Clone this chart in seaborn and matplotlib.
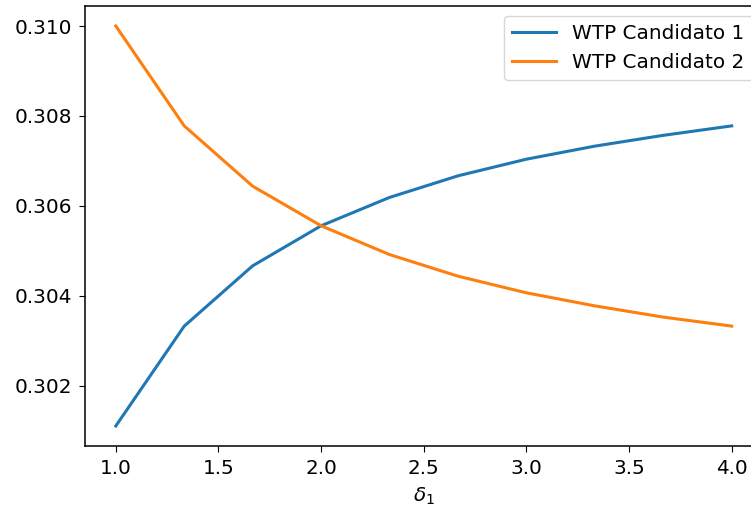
import matplotlib
matplotlib.use("Agg")
import matplotlib.pyplot as plt
import seaborn as sns
import pandas as pd

delta1 = [1.0, 4/3, 5/3, 2.0, 7/3, 8/3, 3.0, 10/3, 11/3, 4.0]
wtp_c1 = [0.30111, 0.30333, 0.30467, 0.30556, 0.30619, 0.30667, 0.30704, 0.30733, 0.30757, 0.30778]
wtp_c2 = [0.31000, 0.30778, 0.30644, 0.30556, 0.30492, 0.30444, 0.30407, 0.30378, 0.30353, 0.30333]
labels = ["WTP Candidato 1", "WTP Candidato 2"]
colors = ["#1f77b4", "#ff7f0e"]

plt.rcParams['font.family'] = ['DejaVu Sans']
plt.rcParams['font.size'] = 14.4
plt.rcParams['xtick.major.size'] = 4.1
plt.rcParams['ytick.major.size'] = 4.1
plt.rcParams['xtick.major.pad'] = 5.0
plt.rcParams['ytick.major.pad'] = 5.0
plt.rcParams['axes.linewidth'] = 1.1

fig = plt.figure(figsize=(7.51, 5.09), dpi=100)
ax = fig.add_axes([85/751, (509-446)/509, 677.5/751, 440/509])

df = pd.DataFrame({"x": delta1 * 2,
                   "y": wtp_c1 + wtp_c2,
                   "serie": [labels[0]] * len(delta1) + [labels[1]] * len(delta1)})
sns.lineplot(data=df, x="x", y="y", hue="serie", palette=colors, ax=ax, linewidth=2.2)

ax.set_xlabel(r"$\delta_1$", labelpad=6)
ax.set_ylabel("")
ax.set_yticks([0.302, 0.304, 0.306, 0.308, 0.310])
ax.set_xticks([1.0, 1.5, 2.0, 2.5, 3.0, 3.5, 4.0])
handles, labs = ax.get_legend_handles_labels()
ax.legend(handles=handles, labels=labs, loc="upper right", title=None,
          borderaxespad=0.5, handlelength=2.2)

fig.savefig("out.png", dpi=100)
